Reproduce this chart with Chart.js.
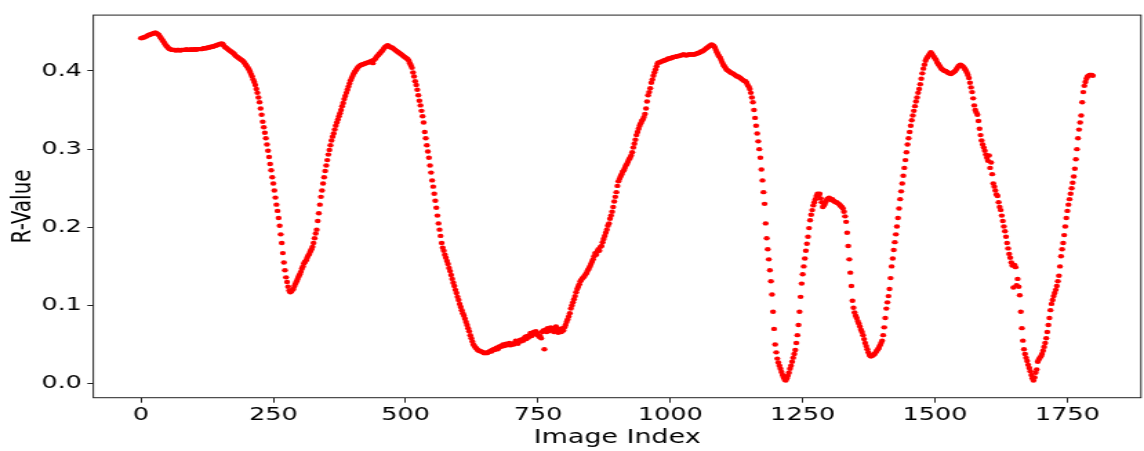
<!DOCTYPE html>
<html>
<head>
<meta charset="utf-8">
<script src="https://cdn.jsdelivr.net/npm/chart.js@4.4.1/dist/chart.umd.min.js"></script>
<style>
  html, body { margin: 0; padding: 0; background: #ffffff; overflow: hidden; }
  #c { display: block; width: 1144px !important; height: 451px !important; }
</style>
</head>
<body>
<canvas id="c" width="829" height="451" style="width:1144px;height:451px"></canvas>
<script>
// Sampled every 2nd image index (0, 2, 4, ... 1798)
const indexStep = 2;
const rValues = [
.442,.442,.443,.443,.444,.444,.445,.446,.446,.447,
.447,.448,.448,.449,.449,.448,.447,.446,.444,.442,
.440,.438,.436,.434,.432,.431,.429,.428,.428,.427,
.427,.427,.427,.426,.427,.427,.427,.426,.427,.427,
.427,.427,.427,.428,.427,.427,.427,.428,.427,.427,
.428,.428,.427,.428,.428,.428,.428,.428,.428,.429,
.429,.429,.429,.430,.430,.430,.431,.431,.431,.432,
.432,.433,.433,.434,.434,.435,.435,.435,.433,.431,
.430,.429,.428,.427,.426,.425,.424,.423,.422,.420,
.419,.418,.417,.416,.415,.414,.413,.412,.410,.408,
.406,.404,.402,.399,.396,.393,.389,.386,.382,.377,
.372,.366,.360,.352,.344,.335,.328,.321,.314,.306,
.298,.290,.281,.273,.264,.256,.247,.238,.229,.221,
.212,.202,.191,.180,.167,.155,.145,.136,.130,.124,
.119,.117,.118,.120,.121,.125,.128,.131,.134,.137,
.140,.143,.147,.150,.154,.156,.158,.161,.164,.166,
.169,.172,.175,.180,.186,.192,.197,.208,.218,.229,
.239,.247,.256,.264,.272,.279,.286,.293,.299,.305,
.311,.316,.320,.325,.330,.334,.338,.342,.346,.350,
.355,.359,.364,.368,.372,.376,.380,.384,.388,.391,
.394,.397,.399,.401,.403,.405,.406,.407,.408,.408,
.409,.409,.410,.410,.411,.411,.412,.412,.413,.410,
.414,.415,.417,.419,.420,.422,.423,.425,.426,.428,
.430,.431,.432,.433,.432,.431,.430,.430,.429,.428,
.427,.426,.425,.424,.423,.422,.421,.420,.419,.418,
.417,.416,.415,.413,.410,.407,.404,.398,.393,.387,
.382,.376,.369,.362,.356,.349,.342,.334,.322,.314,
.305,.297,.289,.279,.270,.260,.252,.243,.234,.225,
.215,.205,.197,.189,.180,.174,.170,.165,.161,.157,
.153,.148,.144,.139,.134,.129,.125,.120,.116,.111,
.107,.102,.098,.094,.090,.087,.083,.079,.075,.071,
.067,.062,.058,.054,.050,.048,.046,.045,.043,.042,
.042,.041,.041,.040,.039,.039,.040,.039,.040,.041,
.042,.041,.043,.044,.043,.045,.046,.044,.047,.048,
.047,.049,.050,.048,.050,.051,.049,.050,.052,.049,
.050,.051,.050,.052,.055,.053,.051,.054,.056,.054,
.057,.055,.058,.060,.057,.061,.059,.062,.065,.061,
.064,.066,.063,.067,.065,.062,.060,.061,.058,.066,
.068,.044,.069,.066,.071,.067,.070,.072,.068,.071,
.066,.070,.073,.068,.065,.070,.069,.066,.071,.068,
.072,.075,.079,.082,.086,.090,.096,.100,.104,.108,
.112,.117,.121,.124,.127,.131,.133,.135,.136,.138,
.140,.142,.145,.147,.150,.153,.156,.159,.163,.167,
.165,.169,.172,.170,.175,.176,.181,.185,.189,.193,
.197,.202,.205,.211,.215,.220,.226,.233,.239,.245,
.253,.259,.262,.265,.268,.271,.273,.276,.279,.281,
.284,.287,.289,.292,.296,.302,.307,.312,.318,.322,
.326,.330,.333,.336,.338,.341,.345,.352,.361,.369,
.373,.378,.385,.389,.394,.398,.402,.406,.410,.411,
.411,.412,.412,.413,.413,.414,.414,.415,.416,.416,
.416,.417,.417,.418,.418,.418,.419,.419,.419,.420,
.420,.420,.421,.421,.420,.420,.420,.421,.421,.421,
.421,.421,.421,.421,.422,.422,.423,.423,.424,.425,
.425,.426,.427,.428,.429,.430,.431,.432,.433,.434,
.433,.432,.430,.427,.424,.421,.419,.417,.414,.411,
.408,.406,.404,.402,.401,.400,.399,.398,.397,.397,
.396,.395,.394,.393,.393,.392,.391,.390,.389,.388,
.387,.387,.385,.382,.380,.377,.372,.366,.360,.350,
.340,.330,.320,.310,.300,.289,.274,.260,.245,.230,
.205,.186,.172,.159,.145,.131,.114,.092,.070,.050,
.040,.032,.027,.023,.019,.015,.011,.008,.005,.004,
.007,.010,.014,.019,.023,.028,.033,.038,.043,.052,
.062,.075,.092,.111,.128,.140,.150,.160,.170,.179,
.188,.199,.209,.216,.222,.228,.232,.236,.240,.243,
.241,.243,.237,.232,.226,.228,.230,.233,.236,.237,
.238,.236,.235,.236,.234,.233,.232,.232,.231,.230,
.229,.227,.226,.224,.220,.214,.207,.193,.176,.159,
.142,.125,.106,.097,.091,.087,.084,.080,.077,.073,
.069,.066,.062,.057,.052,.048,.044,.040,.037,.035,
.035,.036,.037,.038,.040,.042,.044,.046,.049,.052,
.055,.062,.072,.084,.096,.104,.112,.121,.135,.150,
.160,.171,.181,.191,.201,.212,.224,.236,.246,.256,
.266,.276,.286,.296,.306,.314,.322,.330,.337,.343,
.349,.355,.361,.366,.372,.377,.383,.390,.397,.403,
.408,.413,.416,.418,.420,.422,.424,.422,.420,.418,
.416,.414,.411,.409,.407,.405,.403,.402,.401,.400,
.400,.399,.398,.397,.397,.396,.397,.398,.399,.400,
.402,.404,.406,.407,.408,.407,.406,.405,.403,.401,
.398,.395,.391,.385,.379,.373,.365,.356,.350,.347,
.344,.336,.326,.318,.311,.306,.302,.298,.293,.289,
.285,.292,.276,.283,.268,.256,.252,.247,.242,.240,
.232,.226,.222,.215,.208,.201,.195,.188,.180,.173,
.166,.161,.155,.151,.123,.152,.149,.126,.134,.124,
.113,.092,.071,.055,.044,.038,.033,.029,.024,.020,
.016,.011,.007,.004,.008,.014,.018,.028,.031,.033,
.035,.038,.042,.047,.052,.058,.066,.075,.084,.094,
.102,.107,.112,.116,.120,.125,.131,.138,.150,.163,
.172,.180,.190,.201,.212,.221,.229,.236,.243,.250,
.257,.265,.275,.287,.300,.314,.325,.334,.343,.360,
.373,.381,.386,.390,.393,.394,.395,.395,.395,.394
];

const xTicks = [0, 250, 500, 750, 1000, 1250, 1500, 1750];
const yTicks = [0.0, 0.1, 0.2, 0.3, 0.4];
const xLabel = 'Image Index';
const yLabel = 'R-Value';

const points = rValues.map((v, i) => ({ x: i * indexStep, y: v }));

const boxPlugin = {
  id: 'box',
  afterDatasetsDraw(chart) {
    const { ctx, chartArea: a } = chart;
    ctx.save();
    ctx.strokeStyle = '#222';
    ctx.lineWidth = 1;
    ctx.strokeRect(a.left, a.top, a.right - a.left, a.bottom - a.top);
    ctx.restore();
  }
};

const canvas = document.getElementById('c');
const chart = new Chart(canvas, {
  type: 'scatter',
  data: {
    datasets: [{
      data: points,
      backgroundColor: '#ff0000',
      borderWidth: 0,
      pointRadius: 2.2,
      pointHoverRadius: 2.2
    }]
  },
  options: {
    responsive: false,
    animation: false,
    devicePixelRatio: 1,
    layout: { padding: { top: 7.5, right: 1.1, bottom: 0, left: 0 } },
    plugins: { legend: { display: false }, tooltip: { enabled: false } },
    scales: {
      x: {
        type: 'linear',
        min: -90,
        max: 1889,
        afterBuildTicks: s => { s.ticks = xTicks.map(v => ({ value: v })); },
        afterFit: s => { s.height = 53.3; },
        ticks: {
          font: { family: 'DejaVu Sans', size: 18.5 },
          color: '#000',
          padding: 1.5,
          maxRotation: 0,
          autoSkip: false,
          callback: v => String(v)
        },
        grid: { display: true, drawOnChartArea: false, drawTicks: true, tickLength: 5, tickColor: '#222', tickWidth: 1 },
        border: { display: false },
        title: {
          display: true,
          text: xLabel,
          font: { family: 'DejaVu Sans', size: 19.5 },
          color: '#000',
          padding: { top: 0, bottom: 1.3 }
        }
      },
      y: {
        type: 'linear',
        min: -0.018,
        max: 0.4715,
        afterBuildTicks: s => { s.ticks = yTicks.map(v => ({ value: v })); },
        afterFit: s => { s.width = 67.6; },
        ticks: {
          font: { family: 'DejaVu Sans', size: 18.5 },
          color: '#000',
          padding: 4,
          callback: v => Number(v).toFixed(1)
        },
        grid: { display: true, drawOnChartArea: false, drawTicks: true, tickLength: 4.3, tickColor: '#222', tickWidth: 1 },
        border: { display: false },
        title: {
          display: true,
          text: yLabel,
          font: { family: 'DejaVu Sans', size: 20 },
          color: '#000',
          padding: { top: 5.1, bottom: 0 }
        }
      }
    }
  },
  plugins: [boxPlugin]
});
canvas.style.width = '1144px';
canvas.style.height = '451px';
</script>
</body>
</html>
